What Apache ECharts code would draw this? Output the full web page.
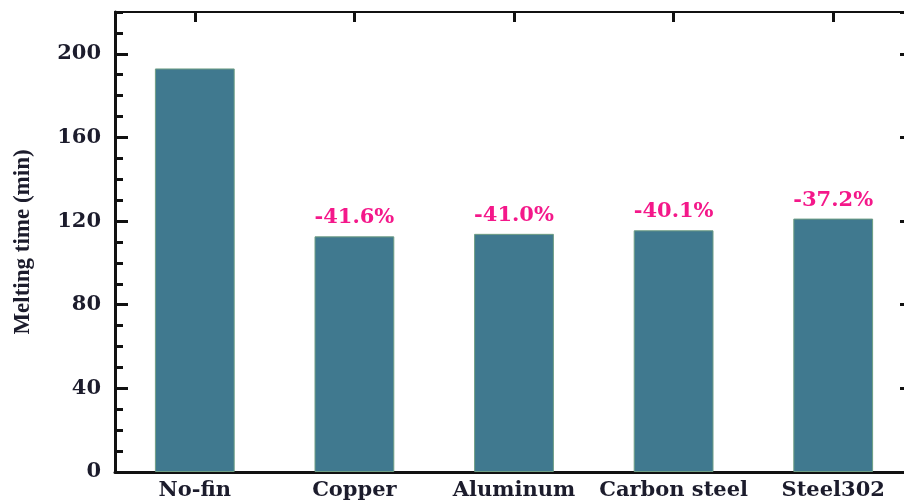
<!DOCTYPE html>
<html>
<head>
<meta charset="utf-8">
<script src="https://cdn.jsdelivr.net/npm/echarts@6/dist/echarts.min.js"></script>
<style>
  html, body { margin: 0; padding: 0; background: #fff; }
  #chart { width: 904px; height: 502px; }
</style>
</head>
<body>
<div id="chart"></div>
<script>
const categories = ['No-fin', 'Copper', 'Aluminum', 'Carbon steel', 'Steel302']
const meltingTime = [193, 112.7, 113.9, 115.6, 121.2]
const reductionLabels = ['', '-41.6%', '-41.0%', '-40.1%', '-37.2%']

const serif = 'DejaVu Serif'
const textColor = '#1c1c2c'
const chart = echarts.init(document.getElementById('chart'))

const valueAxisBase = {
  type: 'value',
  min: 0,
  max: 220,
  splitLine: { show: false }
}

chart.setOption({
  animation: false,
  grid: { left: 115, top: 12, width: 798, height: 460, outerBoundsMode: 'none', containLabel: false },
  xAxis: [
    {
      type: 'category',
      data: categories,
      position: 'bottom',
      axisLine: { onZero: false, lineStyle: { color: '#111', width: 3 } },
      axisTick: { show: true, inside: true, alignWithLabel: true, length: 9, lineStyle: { color: '#111', width: 3 } },
      axisLabel: {
        color: textColor, fontFamily: serif, fontWeight: 'bold', fontSize: 21, margin: 8,
        interval: 0, hideOverlap: false
      }
    },
    {
      type: 'category',
      data: categories,
      position: 'top',
      axisLine: { onZero: false, lineStyle: { color: '#111', width: 2 } },
      axisTick: { show: true, inside: true, alignWithLabel: true, length: 10, lineStyle: { color: '#111', width: 3 } },
      axisLabel: { show: false }
    }
  ],
  yAxis: [
    {
      ...valueAxisBase,
      position: 'left',
      interval: 40,
      name: 'Melting time (min)',
      nameLocation: 'middle',
      nameGap: 80,
      nameTextStyle: { color: textColor, fontFamily: 'Liberation Serif', fontWeight: 'bold', fontSize: 23 },
      axisLine: { show: true, onZero: false, lineStyle: { color: '#111', width: 3 } },
      axisTick: { show: true, inside: true, length: 13, lineStyle: { color: '#111', width: 3 } },
      axisLabel: {
        color: textColor, fontFamily: serif, fontWeight: 'bold', fontSize: 21, margin: 14,
        showMaxLabel: false
      }
    },
    {
      ...valueAxisBase,
      position: 'left',
      interval: 10,
      axisLine: { show: false, onZero: false },
      axisTick: { show: true, inside: true, length: 8, lineStyle: { color: '#111', width: 3 } },
      axisLabel: { show: false }
    },
    {
      ...valueAxisBase,
      position: 'right',
      interval: 40,
      axisLine: { show: false, onZero: false },
      axisTick: { show: true, inside: true, length: 13, lineStyle: { color: '#111', width: 3 } },
      axisLabel: { show: false }
    }
  ],
  series: [
    {
      type: 'bar',
      data: meltingTime,
      barWidth: '50%',
      itemStyle: { color: '#40798f', borderColor: '#6f9e84', borderWidth: 1 },
      label: {
        show: true,
        position: 'top',
        distance: 8,
        color: '#f4188a',
        fontFamily: serif,
        fontWeight: 'bold',
        fontSize: 21,
        formatter: (p) => reductionLabels[p.dataIndex]
      }
    }
  ]
})
</script>
</body>
</html>
